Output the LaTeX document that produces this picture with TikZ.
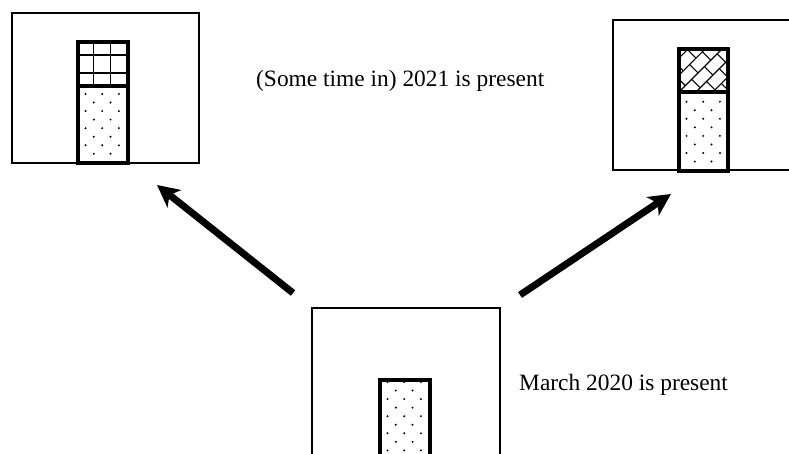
\documentclass[tikz,border=0pt]{standalone}
\usepackage{fontspec}
\setmainfont{Liberation Serif}
\usetikzlibrary{arrows.meta}

% rows of staggered dots inside a column: #1 left x, #2 right x, #3 top y, #4 bottom y, #5 y of first full row
\newcommand\speckle[5]{%
  \begin{scope}
    \clip (#1,#3) rectangle (#2,#4);
    \foreach \r in {0,...,16} {
      \foreach \c in {0,1,2} {
        \pgfmathsetmacro\dy{#5+8.55*\r}
        \pgfmathsetmacro\odd{mod(\r,2)}
        \ifdim\odd pt=0pt
          \fill ({#1+7.5+16.7*\c},\dy) circle (1.1);
        \else
          \ifnum\c<2 \fill ({#1+15.8+16.7*\c},\dy) circle (1.1); \fi
        \fi
      }
    }
  \end{scope}}

\begin{document}
\begin{tikzpicture}[x=1bp,y=-1bp,
  frame/.style={draw,line width=2.2bp,inner sep=0pt,fill=white},
  column/.style={draw,line width=3.6bp,inner sep=0pt},
  thin/.style={line width=1.1bp},
  bigarrow/.style={line width=7bp,-{Stealth[length=22bp,width=22bp,inset=6bp]}},
  caption/.style={font=\fontsize{23.5}{28}\selectfont,anchor=base west,inner sep=0pt}
]
\useasboundingbox (0,0) rectangle (789,454);
\begin{scope}
\clip (0,0) rectangle (789,454);

% the three scenes
\node[frame,minimum width=187bp,minimum height=150bp] (past)   at (105.5,88) {};
\node[frame,minimum width=187bp,minimum height=150bp] (right)  at (706.5,95) {};
\node[frame,minimum width=188bp,minimum height=150bp] (now)    at (406,383) {};

% left column: grid on top, dots below
\fill[white] (78,42) rectangle (128,163);
\speckle{78}{128}{86}{163}{94}
\draw[thin] (93.5,42) -- (93.5,86) (110.5,42) -- (110.5,86)
            (78,73) -- (128,73);
\draw[line width=2.2bp] (78,55) -- (128,55);
\draw[line width=3.2bp] (78,86) -- (128,86);
\node[column,minimum width=50bp,minimum height=121bp] (leftcol) at (103,102.5) {};

% right column: diagonal bricks on top, dots below
\fill[white] (679,49) rectangle (728,171);
\speckle{679}{728}{92}{171}{101.7}
\begin{scope}
  \clip (679,49) rectangle (728,92);
  \begin{scope}[shift={(679,92)},rotate=45]
    \foreach \j in {-5,...,5} {
      \draw[thin] (-20,{12*\j}) -- (90,{12*\j});
      \foreach \n in {-2,...,6} {
        \pgfmathsetmacro\uu{18*\n+9*mod(\j+20,2)}
        \draw[thin] (\uu,{12*\j}) -- (\uu,{12*\j+12});
      }
    }
  \end{scope}
\end{scope}
\draw[line width=3.2bp] (679,92) -- (728,92);
\node[column,minimum width=49bp,minimum height=122bp] (rightcol) at (703.5,110) {};

% bottom column: dots only
\fill[white] (380,380) rectangle (430,470);
\speckle{380}{430}{380}{470}{382}
\node[column,minimum width=50bp,minimum height=90bp] (nowcol) at (405,425) {};

% captions
\node[caption] (later) at (256,87) {(Some time in) 2021 is present};
\node[caption] (march) at (519,390) {March 2020 is present};

% arrows
\coordinate (ltail) at (293,293);
\coordinate (lhead) at (157,185);
\coordinate (rtail) at (520,295);
\coordinate (rhead) at (671,194);
\draw[bigarrow] (ltail) -- (lhead);
\draw[bigarrow] (rtail) -- (rhead);
\end{scope}
\end{tikzpicture}
\end{document}
